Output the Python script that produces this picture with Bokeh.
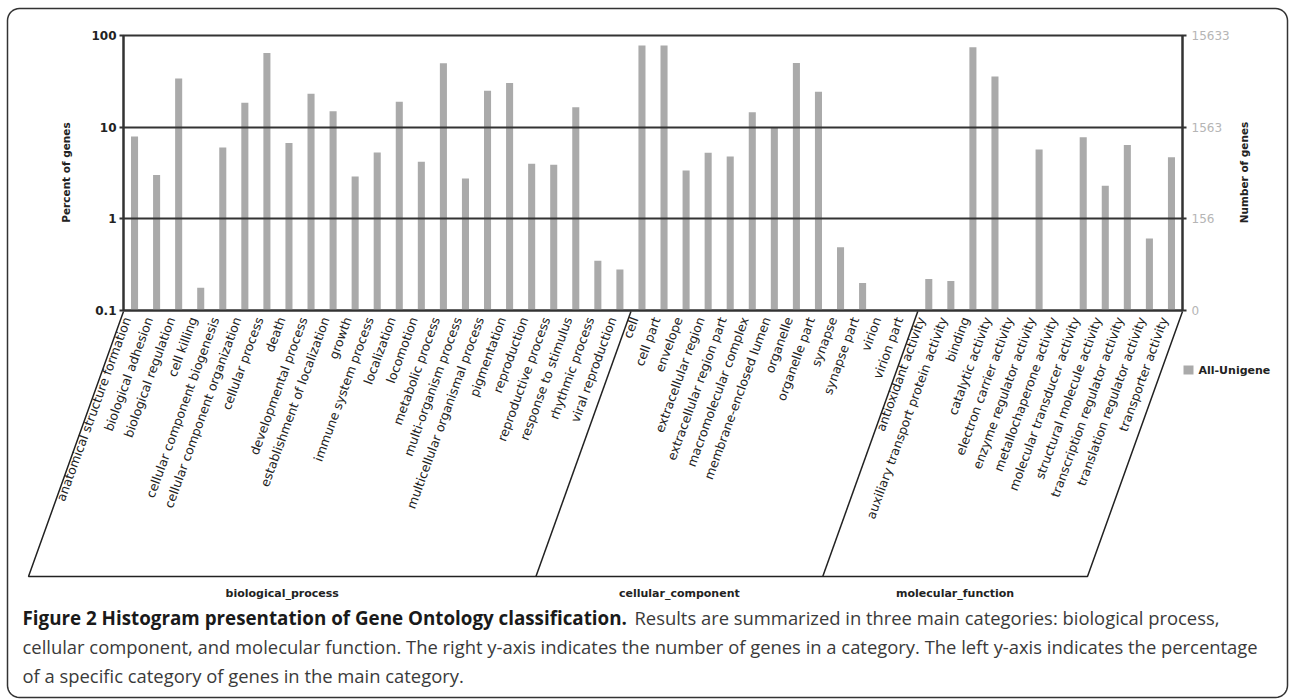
import math
from bokeh.plotting import figure
from bokeh.models import Range1d, FixedTicker, CustomJSTickFormatter, LogAxis
from bokeh.core.properties import value
from bokeh.embed import file_html
from bokeh.resources import INLINE

# ---------------- data ----------------
bp_terms = ["anatomical structure formation", "biological adhesion", "biological regulation",
            "cell killing", "cellular component biogenesis", "cellular component organization",
            "cellular process", "death", "developmental process", "establishment of localization",
            "growth", "immune system process", "localization", "locomotion", "metabolic process",
            "multi-organism process", "multicellular organismal process", "pigmentation",
            "reproduction", "reproductive process", "response to stimulus", "rhythmic process",
            "viral reproduction"]
cc_terms = ["cell", "cell part", "envelope", "extracellular region", "extracellular region part",
            "macromolecular complex", "membrane-enclosed lumen", "organelle", "organelle part",
            "synapse", "synapse part", "virion", "virion part"]
mf_terms = ["antioxidant activity", "auxiliary transport protein activity", "binding",
            "catalytic activity", "electron carrier activity", "enzyme regulator activity",
            "metallochaperone activity", "molecular transducer activity",
            "structural molecule activity", "transcription regulator activity",
            "translation regulator activity", "transporter activity"]

bp_pct = [7.9, 3.0, 34.0, 0.177, 6.0, 18.5, 64.5, 6.7, 23.2, 14.9, 2.9, 5.3, 18.9, 4.2, 49.8,
          2.75, 25.0, 30.4, 3.98, 3.88, 16.5, 0.35, 0.28]
cc_pct = [78.0, 78.0, 3.36, 5.25, 4.78, 14.5, 9.8, 50.0, 24.3, 0.49, 0.2, None, None]
mf_pct = [0.22, 0.21, 74.4, 35.6, None, 5.7, None, 7.76, 2.3, 6.4, 0.61, 4.7]

group_names = ["biological_process", "cellular_component", "molecular_function"]
left_ticks = [0.1, 1, 10, 100]
left_tick_labels = ["0.1", "1", "10", "100"]
right_tick_labels = ["0", "156", "1563", "15633"]
series_name = "All-Unigene"
left_title = "Percent of genes"
right_title = "Number of genes"
caption_bold = "Figure 2 Histogram presentation of Gene Ontology classification."
caption_lines = [
    "Results are summarized in three main categories: biological process,",
    "cellular component, and molecular function. The right y-axis indicates the number of genes in a category. The left y-axis indicates the percentage",
    "of a specific category of genes in the main category.",
]

categories = bp_terms + cc_terms + mf_terms
values = bp_pct + cc_pct + mf_pct
group_sizes = [len(bp_terms), len(cc_terms), len(mf_terms)]

bar_x = [i + 0.5 for i, v in enumerate(values) if v is not None]
bar_top = [v for v in values if v is not None]

# ---------------- layout (page pixels) ----------------
W, H = 1289, 700
FL, FR, FT, FB = 123, 1182, 35, 310

DARK = "#333333"
BAR = "#aaaaaa"
TXT = "#222222"

p = figure(width=W, height=H, output_backend="svg", toolbar_location=None,
           x_range=Range1d(0, len(categories)), y_range=Range1d(0.1, 100),
           y_axis_type="log",
           min_border_left=FL, min_border_right=W - FR,
           min_border_top=FT, min_border_bottom=H - FB)
p.background_fill_color = "white"
p.border_fill_color = "white"
p.outline_line_color = DARK
p.outline_line_width = 2

p.vbar(x=bar_x, top=bar_top, bottom=0.1, width=0.32, fill_color=BAR, line_color=None)

# grid
p.xgrid.visible = False
p.ygrid.ticker = FixedTicker(ticks=[1, 10])
p.ygrid.grid_line_color = DARK
p.ygrid.grid_line_width = 2
p.ygrid.level = "guide"

fmt_code = """
let best = -1, bd = 1e9;
for (let k = 0; k < tvals.length; k++) {
  const d = Math.abs(Math.log10(tvals[k]) - Math.log10(tick));
  if (d < bd) { bd = d; best = k; }
}
return bd < 1e-6 ? labels[best] : "";
"""

# left axis
ya = p.yaxis[0]
ya.ticker = FixedTicker(ticks=left_ticks)
ya.formatter = CustomJSTickFormatter(args=dict(tvals=left_ticks, labels=left_tick_labels), code=fmt_code)
ya.axis_line_color = DARK
ya.axis_line_width = 2
ya.major_tick_line_color = DARK
ya.major_tick_line_width = 2
ya.major_tick_out = 4
ya.major_tick_in = 0
ya.minor_tick_line_color = None
ya.major_label_text_font = "DejaVu Sans"
ya.major_label_text_font_size = "12px"
ya.major_label_text_font_style = "bold"
ya.major_label_text_color = TXT
ya.major_label_standoff = 3

# right axis
ra = LogAxis(ticker=FixedTicker(ticks=left_ticks),
             formatter=CustomJSTickFormatter(args=dict(tvals=left_ticks, labels=right_tick_labels), code=fmt_code))
ra.axis_line_color = DARK
ra.axis_line_width = 2
ra.major_tick_line_color = DARK
ra.major_tick_line_width = 2
ra.major_tick_out = 4
ra.major_tick_in = 0
ra.minor_tick_line_color = None
ra.major_label_text_font = "DejaVu Sans"
ra.major_label_text_font_size = "12px"
ra.major_label_text_color = "#b5b5b5"
ra.major_label_standoff = 5
p.add_layout(ra, "right")

# bottom axis with rotated category names
xa = p.xaxis[0]
xa.ticker = FixedTicker(ticks=[i + 0.16 for i in range(len(categories))])
xa.formatter = CustomJSTickFormatter(args=dict(names=categories),
                                     code="return names[Math.floor(tick + 1e-6)];")
xa.major_label_orientation = math.radians(70)
xa.axis_line_color = DARK
xa.axis_line_width = 2
xa.major_tick_line_color = None
xa.major_tick_out = 0
xa.major_tick_in = 0
xa.minor_tick_line_color = None
xa.major_label_text_font = "DejaVu Sans"
xa.major_label_text_font_size = "12.5px"
xa.major_label_text_color = TXT
xa.major_label_standoff = 7

# ---------------- overlay figure for decorations (pixel coordinates) ----------------
d = figure(width=W, height=H, output_backend="svg", toolbar_location=None,
           x_range=Range1d(0, W), y_range=Range1d(H, 0),
           x_axis_type=None, y_axis_type=None, min_border=0)
d.background_fill_color = None
d.border_fill_color = None
d.outline_line_color = None
d.styles = {"position": "absolute", "left": "0px", "top": "0px", "pointer-events": "none"}

band = (FR - FL) / len(categories)
slant = 95.0
y_top = FB + 1
y_bot = 576

# outer bracket
d.line(x=[FL, FL - slant, FR - slant, FR], y=[y_top, y_bot, y_bot, y_top],
       line_color=TXT, line_width=1.5)
bounds = [0]
for g in group_sizes:
    bounds.append(bounds[-1] + g)
div_x0 = [FL + b * band for b in bounds[1:-1]]
d.segment(x0=div_x0, y0=[y_top] * len(div_x0), x1=[x - slant for x in div_x0],
          y1=[y_bot] * len(div_x0), line_color=TXT, line_width=1.5)
gx = [FL + (bounds[i] + bounds[i + 1]) / 2 * band - slant for i in range(len(group_names))]
d.text(x=gx, y=[593] * len(gx), text=group_names, text_align="center", text_baseline="middle",
       text_font=value("DejaVu Sans"), text_font_style="bold", text_font_size="11px",
       text_color=TXT)

# axis titles
d.text(x=[65, 1243], y=[172, 172], text=[left_title, right_title], angle=math.pi / 2,
       text_align="center", text_baseline="middle", text_font=value("DejaVu Sans"),
       text_font_style="bold", text_font_size="10.5px", text_color=TXT)

# legend
d.quad(left=[1183], right=[1193], top=[365], bottom=[374], fill_color=BAR, line_color=None)
d.text(x=[1198], y=[370], text=[series_name], text_align="left", text_baseline="middle",
       text_font=value("DejaVu Sans"), text_font_style="bold", text_font_size="11px",
       text_color=TXT)

# caption
cap_y = [617, 646, 675]
d.text(x=[22], y=[cap_y[0]], text=[caption_bold], text_align="left", text_baseline="middle",
       text_font=value("Open Sans"), text_font_style="bold", text_font_size="18.8px",
       text_color="#1a1a1a")
d.text(x=[634, 22, 22], y=cap_y, text=caption_lines, text_align="left", text_baseline="middle",
       text_font=value("Open Sans"), text_font_size="18.4px", text_color="#3a3a3a")

# rounded outer frame
r = 12
x0, y0, x1, y1 = 7, 8, 1287, 697
bx, by = [], []
corners = [(x1 - r, y0 + r, -90, 0), (x1 - r, y1 - r, 0, 90),
           (x0 + r, y1 - r, 90, 180), (x0 + r, y0 + r, 180, 270)]
for cx, cy, a0, a1 in corners:
    for k in range(9):
        a = math.radians(a0 + (a1 - a0) * k / 8)
        bx.append(cx + r * math.cos(a))
        by.append(cy + r * math.sin(a))
bx.append(bx[0])
by.append(by[0])
d.line(x=bx, y=by, line_color="#333333", line_width=1.5)

open("out.html", "w").write(file_html([p, d], INLINE))
